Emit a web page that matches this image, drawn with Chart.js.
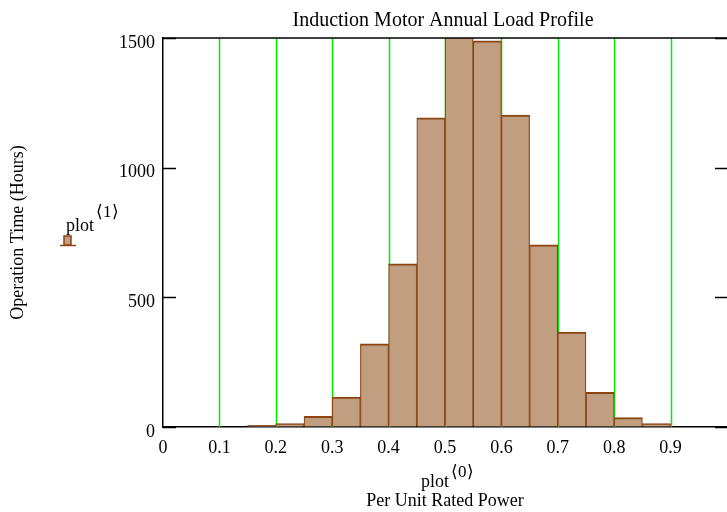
<!DOCTYPE html>
<html>
<head>
<meta charset="utf-8">
<title>Induction Motor Annual Load Profile</title>
<script src="https://cdn.jsdelivr.net/npm/chart.js@4.4.0/dist/chart.umd.min.js"></script>
<style>
  html, body { margin: 0; padding: 0; background: #fff; overflow: hidden; }
  #chartDiv { width: 727px; height: 512px; }
</style>
</head>
<body>
<div id="chartDiv"><canvas id="myChart"></canvas></div>
<script>
// histogram: start of each 0.05 wide bin (per unit rated power) and hours in it
const binStarts = [0.15, 0.2, 0.25, 0.3, 0.35, 0.4, 0.45, 0.5, 0.55, 0.6, 0.65, 0.7, 0.75, 0.8, 0.85];
const hours = [6, 13, 41, 115, 321, 629, 1192, 1530, 1489, 1203, 702, 366, 134, 36, 13];
const binWidth = 0.05;

// axis ticks
const xTicks = [0, 0.1, 0.2, 0.3, 0.4, 0.5, 0.6, 0.7, 0.8, 0.9];
const yTicks = [0, 500, 1000, 1500];

const serif = "'Liberation Serif', 'Times New Roman', serif";
Chart.defaults.font.family = serif;
Chart.defaults.font.size = 18;
Chart.defaults.color = '#000';

const barFill = '#c19e7f';
const barEdge = '#8b4513';

// green vertical grid behind the bars
const greenGrid = {
    id: 'greenGrid',
    beforeDatasetsDraw(chart) {
        const ctx = chart.ctx;
        const area = chart.chartArea;
        const xScale = chart.scales.x;
        ctx.save();
        ctx.strokeStyle = '#00ee00';
        ctx.lineWidth = 1.5;
        xTicks.forEach(v => {
            if (v <= 0) return;
            const px = Math.round(xScale.getPixelForValue(v)) + 0.5;
            ctx.beginPath();
            ctx.moveTo(px, area.top);
            ctx.lineTo(px, area.bottom);
            ctx.stroke();
        });
        ctx.restore();
    }
};

// frame, inward ticks and the Mathcad style labels
const decorations = {
    id: 'decorations',
    afterDraw(chart) {
        const ctx = chart.ctx;
        const area = chart.chartArea;
        const yScale = chart.scales.y;
        const midX = (area.left + area.right) / 2;
        ctx.save();

        // top edge of the frame
        ctx.strokeStyle = '#000';
        ctx.lineWidth = 1.5;
        ctx.beginPath();
        ctx.moveTo(area.left, area.top);
        ctx.lineTo(area.right, area.top);
        ctx.stroke();

        // inward tick marks both sides
        yTicks.forEach(v => {
            const py = Math.round(yScale.getPixelForValue(v)) + 0.5;
            ctx.beginPath();
            ctx.moveTo(area.left, py);
            ctx.lineTo(area.left + 13, py);
            ctx.moveTo(area.right - 12, py);
            ctx.lineTo(area.right, py);
            ctx.stroke();
        });

        ctx.fillStyle = '#000';
        ctx.textBaseline = 'alphabetic';

        // title
        ctx.font = '20px ' + serif;
        ctx.textAlign = 'center';
        ctx.fillText('Induction Motor Annual Load Profile', midX - 2, 26);

        // y axis title
        ctx.font = '18px ' + serif;
        ctx.save();
        ctx.translate(18, (area.top + area.bottom) / 2);
        ctx.rotate(-Math.PI / 2);
        ctx.textBaseline = 'middle';
        ctx.fillText('Operation Time (Hours)', 0, 0);
        ctx.restore();

        // x axis title
        ctx.textAlign = 'left';
        ctx.fillText('plot', 421, 487);
        ctx.font = '17px ' + serif;
        ctx.fillText('\u27E8' + '0' + '\u27E9', 451, 477);
        ctx.font = '18px ' + serif;
        ctx.textAlign = 'center';
        ctx.fillText('Per Unit Rated Power', midX, 506);

        // legend for the trace
        ctx.textAlign = 'left';
        ctx.fillText('plot', 66, 231);
        ctx.font = '17px ' + serif;
        ctx.fillText('\u27E8' + '1' + '\u27E9', 96, 217);
        ctx.fillStyle = barFill;
        ctx.strokeStyle = barEdge;
        ctx.lineWidth = 1.5;
        ctx.fillRect(64, 236, 7, 9);
        ctx.strokeRect(64, 236, 7, 9);
        ctx.beginPath();
        ctx.moveTo(60, 245.5);
        ctx.lineTo(76, 245.5);
        ctx.stroke();

        ctx.restore();
    }
};

const ctx = document.getElementById('myChart').getContext('2d');
const chart = new Chart(ctx, {
    type: 'bar',
    data: {
        datasets: [{
            data: binStarts.map((b, i) => ({ x: b + binWidth / 2, y: hours[i] })),
            backgroundColor: barFill,
            borderColor: barEdge,
            borderWidth: { top: 2, left: 1.2, right: 1.2, bottom: 0 },
            barPercentage: 1,
            categoryPercentage: 1,
            clip: 0
        }]
    },
    options: {
        responsive: true,
        maintainAspectRatio: false,
        animation: false,
        layout: { padding: { top: 38, left: 0, right: 0, bottom: 0 } },
        plugins: {
            legend: { display: false },
            tooltip: { enabled: false },
            title: { display: false }
        },
        scales: {
            x: {
                type: 'linear',
                min: 0,
                max: 1,
                offset: false,
                afterBuildTicks: s => { s.ticks = xTicks.map(v => ({ value: v })); },
                afterFit: s => { s.height = 85; },
                grid: { offset: false, drawOnChartArea: false, drawTicks: false },
                border: { color: '#000', width: 1.5 },
                ticks: {
                    padding: 10,
                    maxRotation: 0,
                    autoSkip: false,
                    callback: v => v === 0 ? '0' : v.toFixed(1)
                }
            },
            y: {
                min: 0,
                max: 1500,
                afterBuildTicks: s => { s.ticks = yTicks.map(v => ({ value: v })); },
                afterFit: s => { s.width = 163; },
                grid: { drawOnChartArea: false, drawTicks: false },
                border: { color: '#000', width: 1.5 },
                ticks: { padding: 8, labelOffset: 5, callback: v => String(v) }
            }
        }
    },
    plugins: [greenGrid, decorations]
});
</script>
</body>
</html>
